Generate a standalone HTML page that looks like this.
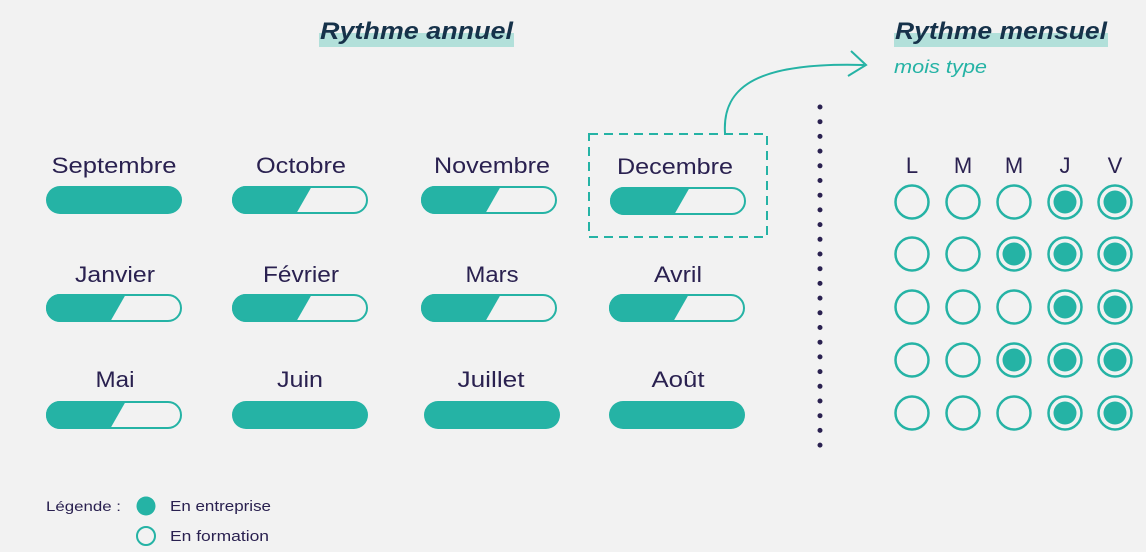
<!DOCTYPE html>
<html><head><meta charset="utf-8"><style>
html,body{margin:0;padding:0;background:#f2f2f2;}
svg{display:block;font-family:"Liberation Sans",sans-serif;}
.m{font-size:22px;fill:#2a2150;text-anchor:middle;}
</style></head><body>
<svg width="1146" height="552" viewBox="0 0 1146 552">
<rect width="1146" height="552" fill="#f2f2f2"/>
<defs>
<g id="full"><rect x="0" y="0" width="136" height="28" rx="14" fill="#25b3a5"/></g>
<g id="half"><path d="M14,0 L80,0 L64,28 L14,28 A14,14 0 0 1 14,0 Z" fill="#25b3a5"/><rect x="1" y="1" width="134" height="26" rx="13" fill="none" stroke="#25b3a5" stroke-width="2"/></g>
<g id="o"><circle r="16.5" fill="none" stroke="#25b3a5" stroke-width="2.5"/></g>
<g id="f"><circle r="16.5" fill="none" stroke="#25b3a5" stroke-width="2.5"/><circle r="11.5" fill="#25b3a5"/></g>
</defs>
<!-- titles -->
<rect x="319" y="33" width="195" height="14" fill="#b2e0da"/>
<text x="320" y="39" font-size="24" font-weight="bold" font-style="italic" fill="#16324a" textLength="193" lengthAdjust="spacingAndGlyphs">Rythme annuel</text>
<rect x="894" y="33" width="214" height="14" fill="#b2e0da"/>
<text x="895" y="39" font-size="24" font-weight="bold" font-style="italic" fill="#16324a" textLength="212" lengthAdjust="spacingAndGlyphs">Rythme mensuel</text>
<text x="894" y="73" font-size="18" font-style="italic" fill="#25b3a5" textLength="93" lengthAdjust="spacingAndGlyphs">mois type</text>
<!-- arrow -->
<path d="M725,133 C722,85 760,62 864,65" fill="none" stroke="#25b3a5" stroke-width="2"/>
<path d="M851,51 L866,65 L848,76" fill="none" stroke="#25b3a5" stroke-width="2"/>
<!-- dashed box -->
<rect x="589" y="134" width="178" height="103" fill="none" stroke="#25b3a5" stroke-width="2" stroke-dasharray="9,6"/>
<!-- dotted line -->
<line x1="820" y1="107" x2="820" y2="450" stroke="#2a2150" stroke-width="5" stroke-linecap="round" stroke-dasharray="0,14.7"/>
<!-- months -->
<text class="m" x="114" y="173" textLength="125" lengthAdjust="spacingAndGlyphs">Septembre</text><use href="#full" x="46" y="186"/>
<text class="m" x="301" y="173" textLength="90" lengthAdjust="spacingAndGlyphs">Octobre</text><use href="#half" x="232" y="186"/>
<text class="m" x="492" y="173" textLength="116" lengthAdjust="spacingAndGlyphs">Novembre</text><use href="#half" x="421" y="186"/>
<text class="m" x="675" y="174" textLength="116" lengthAdjust="spacingAndGlyphs">Decembre</text><use href="#half" x="610" y="187"/>
<text class="m" x="115" y="282" textLength="80" lengthAdjust="spacingAndGlyphs">Janvier</text><use href="#half" x="46" y="294"/>
<text class="m" x="301" y="282" textLength="76" lengthAdjust="spacingAndGlyphs">Février</text><use href="#half" x="232" y="294"/>
<text class="m" x="492" y="282" textLength="53" lengthAdjust="spacingAndGlyphs">Mars</text><use href="#half" x="421" y="294"/>
<text class="m" x="678" y="282" textLength="48" lengthAdjust="spacingAndGlyphs">Avril</text><use href="#half" x="609" y="294"/>
<text class="m" x="115" y="387" textLength="39" lengthAdjust="spacingAndGlyphs">Mai</text><use href="#half" x="46" y="401"/>
<text class="m" x="300" y="387" textLength="46" lengthAdjust="spacingAndGlyphs">Juin</text><use href="#full" x="232" y="401"/>
<text class="m" x="491" y="387" textLength="67" lengthAdjust="spacingAndGlyphs">Juillet</text><use href="#full" x="424" y="401"/>
<text class="m" x="678" y="387" textLength="53" lengthAdjust="spacingAndGlyphs">Août</text><use href="#full" x="609" y="401"/>
<!-- days -->
<text class="m" x="912" y="173">L</text><text class="m" x="963" y="173">M</text><text class="m" x="1014" y="173">M</text><text class="m" x="1065" y="173">J</text><text class="m" x="1115" y="173">V</text>
<use href="#o" x="912" y="202"/><use href="#o" x="963" y="202"/><use href="#o" x="1014" y="202"/><use href="#f" x="1065" y="202"/><use href="#f" x="1115" y="202"/>
<use href="#o" x="912" y="254"/><use href="#o" x="963" y="254"/><use href="#f" x="1014" y="254"/><use href="#f" x="1065" y="254"/><use href="#f" x="1115" y="254"/>
<use href="#o" x="912" y="307"/><use href="#o" x="963" y="307"/><use href="#o" x="1014" y="307"/><use href="#f" x="1065" y="307"/><use href="#f" x="1115" y="307"/>
<use href="#o" x="912" y="360"/><use href="#o" x="963" y="360"/><use href="#f" x="1014" y="360"/><use href="#f" x="1065" y="360"/><use href="#f" x="1115" y="360"/>
<use href="#o" x="912" y="413"/><use href="#o" x="963" y="413"/><use href="#o" x="1014" y="413"/><use href="#f" x="1065" y="413"/><use href="#f" x="1115" y="413"/>
<!-- legend -->
<text x="46" y="511" font-size="14" fill="#2a2150" textLength="75" lengthAdjust="spacingAndGlyphs">Légende :</text>
<circle cx="146" cy="506" r="9.5" fill="#25b3a5"/>
<text x="170" y="511" font-size="15" fill="#2a2150" textLength="101" lengthAdjust="spacingAndGlyphs">En entreprise</text>
<circle cx="146" cy="536" r="9" fill="none" stroke="#25b3a5" stroke-width="2"/>
<text x="170" y="541" font-size="15" fill="#2a2150" textLength="99" lengthAdjust="spacingAndGlyphs">En formation</text>
</svg>
</body></html>
